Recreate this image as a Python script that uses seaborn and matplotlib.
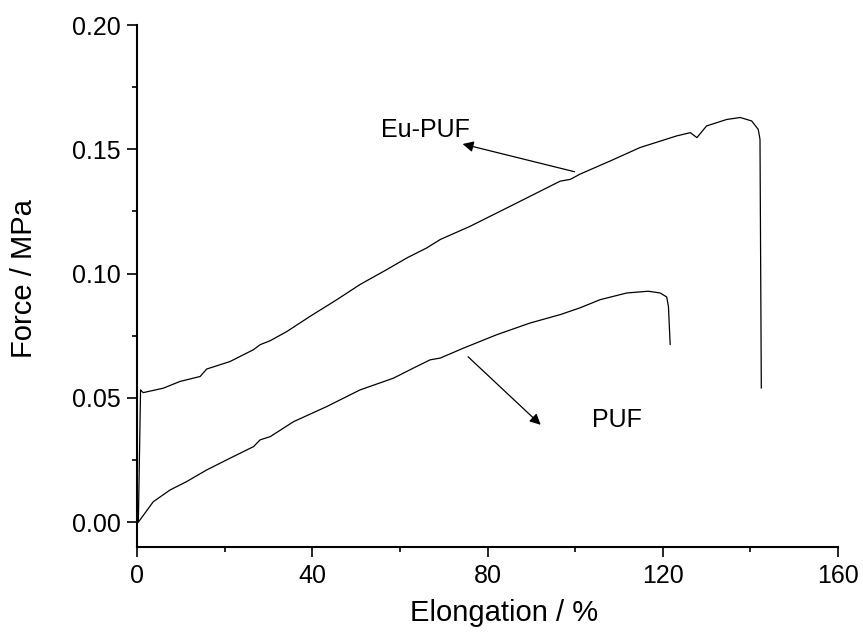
import pandas as pd
import seaborn as sns
import matplotlib.pyplot as plt
from matplotlib.ticker import MultipleLocator

# Eu-PUF curve (elongation %, force MPa)
eu_x = [0, 0.3, 0.8, 1.4, 6, 9.8, 14.4, 15.9, 21.2, 26.6, 28.1, 30.4, 34.2, 39.5,
        45.6, 50.9, 57, 61.6, 66.1, 69.2, 76, 85.2, 91.3, 96.6, 98.9, 101.1, 108,
        114.8, 123.2, 126.3, 127.8, 130, 134.6, 137.7, 140.3, 141.8, 142.2, 142.5]
eu_y = [0, 0, 0.0532, 0.0521, 0.0539, 0.0566, 0.0586, 0.0616, 0.0646, 0.0694, 0.0714,
        0.073, 0.0767, 0.0828, 0.0895, 0.0956, 0.1016, 0.1063, 0.1103, 0.1137, 0.119,
        0.1271, 0.1325, 0.1372, 0.1379, 0.140, 0.1453, 0.1507, 0.1554, 0.1567, 0.1547,
        0.1594, 0.162, 0.1628, 0.1614, 0.158, 0.154, 0.0539]

# PUF curve
puf_x = [0, 0.3, 3.7, 7.5, 11.3, 15.9, 21.2, 26.6, 28.1, 30.4, 35.7, 43.3, 50.9, 58.5,
         63.1, 66.9, 69.2, 74.5, 82.1, 89.7, 96.6, 101.1, 105.7, 111.8, 116.7, 119.4,
         120.9, 121.3, 121.7]
puf_y = [0, 0, 0.0082, 0.0129, 0.0163, 0.021, 0.0257, 0.0304, 0.0331, 0.0344, 0.0404,
         0.0465, 0.0532, 0.0579, 0.062, 0.0653, 0.066, 0.07, 0.0754, 0.0801, 0.0835,
         0.0862, 0.0895, 0.0922, 0.0929, 0.0922, 0.0906, 0.0868, 0.0714]

sns.set_style('ticks')
plt.rcParams['font.family'] = ['Liberation Sans', 'DejaVu Sans']
plt.rcParams.update({'text.color': 'black', 'axes.labelcolor': 'black',
                     'xtick.color': 'black', 'ytick.color': 'black',
                     'axes.edgecolor': 'black'})

fig, ax = plt.subplots(figsize=(8.63, 6.32), dpi=100)
fig.subplots_adjust(left=0.1588, right=0.971, top=0.9604, bottom=0.1345)

eu = pd.DataFrame({'x': eu_x, 'y': eu_y})
puf = pd.DataFrame({'x': puf_x, 'y': puf_y})
sns.lineplot(data=eu, x='x', y='y', sort=False, estimator=None, color='black', lw=0.9, ax=ax)
sns.lineplot(data=puf, x='x', y='y', sort=False, estimator=None, color='black', lw=0.9, ax=ax)

ax.set_xlim(0, 160)
ax.set_ylim(-0.01, 0.20)
ax.xaxis.set_major_locator(MultipleLocator(40))
ax.xaxis.set_minor_locator(MultipleLocator(20))
ax.yaxis.set_major_locator(MultipleLocator(0.05))
ax.yaxis.set_minor_locator(MultipleLocator(0.025))
ax.yaxis.set_major_formatter(plt.FormatStrFormatter('%.2f'))

sns.despine(ax=ax)
for s in ['left', 'bottom']:
    ax.spines[s].set_linewidth(1.5)
ax.tick_params(which='major', direction='out', length=7, width=1.2, labelsize=18, pad=5)
ax.tick_params(which='minor', direction='out', length=3.6, width=1.2)

ax.set_xlabel('Elongation / %', fontsize=21, va='center')
ax.set_ylabel('Force / MPa', fontsize=21, va='center')
ax.xaxis.set_label_coords(0.524, -0.126)
ax.yaxis.set_label_coords(-0.161, 0.515)

arrow = dict(arrowstyle='-|>', color='black', lw=0.9, mutation_scale=16)
ax.annotate('', xy=(73.7, 0.1524), xytext=(100.5, 0.1407), arrowprops=arrow)
ax.annotate('', xy=(92.6, 0.0384), xytext=(75.1, 0.0673), arrowprops=arrow)
ax.text(65.8, 0.1577, 'Eu-PUF', fontsize=18, ha='center', va='center')
ax.text(109.6, 0.0411, 'PUF', fontsize=18, ha='center', va='center')

plt.savefig('out.png', dpi=100)
